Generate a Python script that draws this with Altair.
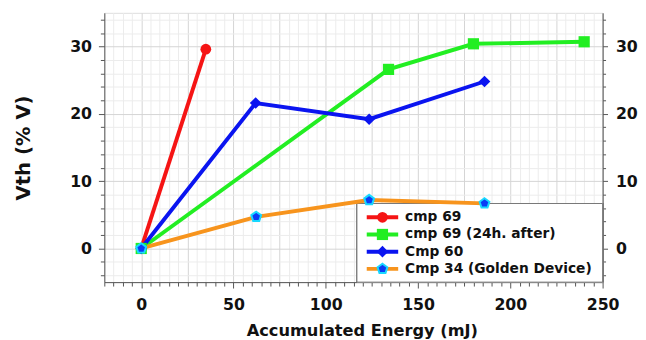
import altair as alt
import pandas as pd

series = ["cmp 69", "cmp 69 (24h. after)", "Cmp 60", "Cmp 34 (Golden Device)"]
line_colors = ["#f51414", "#22ee22", "#0a14f0", "#f7941d"]
fill_colors = ["#f51414", "#22ee22", "#0a14f0", "#0a3cf5"]
pentagon = "M0,-1L0.951,-0.309L0.588,0.809L-0.588,0.809L-0.951,-0.309Z"
shapes = ["circle", "square", "diamond", pentagon]
sizes = [120, 150, 130, 125]

cmp69_x = [0, 35]
cmp69_y = [0, 29.6]
cmp69b_x = [0, 134, 180, 240]
cmp69b_y = [0, 26.6, 30.4, 30.7]
cmp60_x = [0, 62, 123.5, 186]
cmp60_y = [0, 21.6, 19.2, 24.8]
cmp34_x = [0, 62.3, 123.5, 186]
cmp34_y = [0, 4.7, 7.2, 6.7]

x_ticks = list(range(-20, 251, 5))
y_ticks = list(range(-4, 35, 2))

rows = []
for name, xs, ys in [(series[0], cmp69_x, cmp69_y), (series[1], cmp69b_x, cmp69b_y),
                     (series[2], cmp60_x, cmp60_y), (series[3], cmp34_x, cmp34_y)]:
    for i, (a, b) in enumerate(zip(xs, ys)):
        rows.append({"series": name, "x": a, "y": b, "order": i})
df = pd.DataFrame(rows)
leg_df = pd.DataFrame({"series": series})

FONT = "DejaVu Sans"
W, H = 507, 274

stroke_scale = alt.Scale(domain=series, range=line_colors)
fill_scale = alt.Scale(domain=series, range=fill_colors)
shape_scale = alt.Scale(domain=series, range=shapes)
size_scale = alt.Scale(domain=series, range=sizes)

x_axis = alt.Axis(values=x_ticks, title="Accumulated Energy (mJ)",
                  labelExpr="datum.value % 50 === 0 ? datum.label : ''",
                  labelOverlap=False, labelFlush=False,
                  tickSize={"condition": {"test": "datum.value % 50 === 0", "value": 6}, "value": 4},
                  gridColor={"condition": {"test": "datum.value % 25 === 0", "value": "#d4d4d4"}, "value": "#ececec"},
                  grid=True, tickColor="#555", domainColor="#555",
                  labelFont=FONT, labelFontSize=16, labelFontWeight="bold", labelPadding=9,
                  labelColor="#111",
                  titleFont=FONT, titleFontSize=16.5, titleFontWeight="bold", titleColor="#111",
                  titlePadding=10, titleX=262)
y_axis = alt.Axis(values=y_ticks, title="Vth (% V)",
                  labelExpr="datum.value % 10 === 0 ? datum.label : ''",
                  labelOverlap=False, labelFlush=False,
                  tickSize={"condition": {"test": "datum.value % 10 === 0", "value": 6}, "value": 4},
                  gridColor={"condition": {"test": "datum.value % 10 === 0", "value": "#d4d4d4"}, "value": "#ececec"},
                  grid=True, tickColor="#555", domainColor="#555",
                  labelFont=FONT, labelFontSize=16, labelFontWeight="bold", labelPadding=7,
                  labelColor="#111",
                  titleFont=FONT, titleFontSize=20, titleFontWeight="bold", titleColor="#111",
                  titlePadding=37)
x_scale = alt.Scale(domain=[-20, 250], nice=False, zero=False)
y_scale = alt.Scale(domain=[-5, 35], nice=False, zero=False)
x_enc = alt.X("x:Q", scale=x_scale, axis=x_axis)
y_enc = alt.Y("y:Q", scale=y_scale, axis=y_axis)

base = alt.Chart(df)

box = base.mark_rect(fill="white", stroke="#777", strokeWidth=1).encode(
    x=alt.value(257), x2=alt.value(W), y=alt.value(194), y2=alt.value(H)
)

lines = base.mark_line(strokeWidth=4).encode(
    x=x_enc, y=y_enc,
    stroke=alt.Stroke("series:N", scale=stroke_scale, legend=None),
    detail="series:N", order="order:Q",
)

pts = base.transform_filter(alt.FieldOneOfPredicate(field="series", oneOf=series[:3])).mark_point(
    filled=True, opacity=1, strokeWidth=0).encode(
    x=x_enc, y=y_enc,
    fill=alt.Fill("series:N", scale=fill_scale, legend=None),
    shape=alt.Shape("series:N", scale=shape_scale, legend=None),
    size=alt.Size("series:N", scale=size_scale, legend=None),
)
pts_gold = base.transform_filter(alt.FieldEqualPredicate(field="series", equal=series[3])).mark_point(
    filled=True, opacity=1, fill="#0a3cf5", stroke="#18d8ff", strokeWidth=2, shape=pentagon, size=110).encode(
    x=x_enc, y=y_enc,
)

main = alt.layer(box, lines, pts, pts_gold)

right = base.mark_point(opacity=0).encode(
    y=alt.Y("y:Q", scale=y_scale,
            axis=alt.Axis(values=y_ticks, orient="right", title=None, grid=False,
                          labelExpr="datum.value % 10 === 0 ? datum.label : ''",
                          labelOverlap=False, labelFlush=False,
                          tickSize={"condition": {"test": "datum.value % 10 === 0", "value": 5}, "value": 3},
                          tickColor="#555", domainColor="#555",
                          labelFont=FONT, labelFontSize=16, labelFontWeight="bold", labelPadding=8,
                          labelColor="#111"))
)

leg_y = alt.Y("series:N", scale=alt.Scale(type="point", domain=series, range=[208, 260.5], padding=0), axis=None)
leg_base = alt.Chart(leg_df)
leg_rules = leg_base.mark_rule(strokeWidth=4).encode(
    x=alt.value(267), x2=alt.value(299), y=leg_y,
    stroke=alt.Stroke("series:N", scale=stroke_scale, legend=None),
)
leg_pts = leg_base.transform_filter(alt.FieldOneOfPredicate(field="series", oneOf=series[:3])).mark_point(
    filled=True, opacity=1, strokeWidth=0).encode(
    x=alt.value(283), y=leg_y,
    fill=alt.Fill("series:N", scale=fill_scale, legend=None),
    shape=alt.Shape("series:N", scale=shape_scale, legend=None),
    size=alt.Size("series:N", scale=size_scale, legend=None),
)
leg_gold = leg_base.transform_filter(alt.FieldEqualPredicate(field="series", equal=series[3])).mark_point(
    filled=True, opacity=1, fill="#0a3cf5", stroke="#18d8ff", strokeWidth=2, shape=pentagon, size=110).encode(
    x=alt.value(283), y=leg_y,
)
leg_text = leg_base.mark_text(align="left", baseline="middle", font=FONT, fontSize=14,
                              fontWeight="bold", color="#111").encode(
    x=alt.value(306), y=leg_y, text="series:N",
)
legend = alt.layer(leg_rules, leg_pts, leg_gold, leg_text)

chart = alt.layer(main, right, legend).resolve_scale(y="independent").properties(
    width=W, height=H, padding={"left": 5, "top": 0, "right": 0, "bottom": 0}
).configure_view(stroke="#888", strokeWidth=1).configure(background="white")

chart.save("out.html", embed_options={"renderer": "svg", "actions": False})
